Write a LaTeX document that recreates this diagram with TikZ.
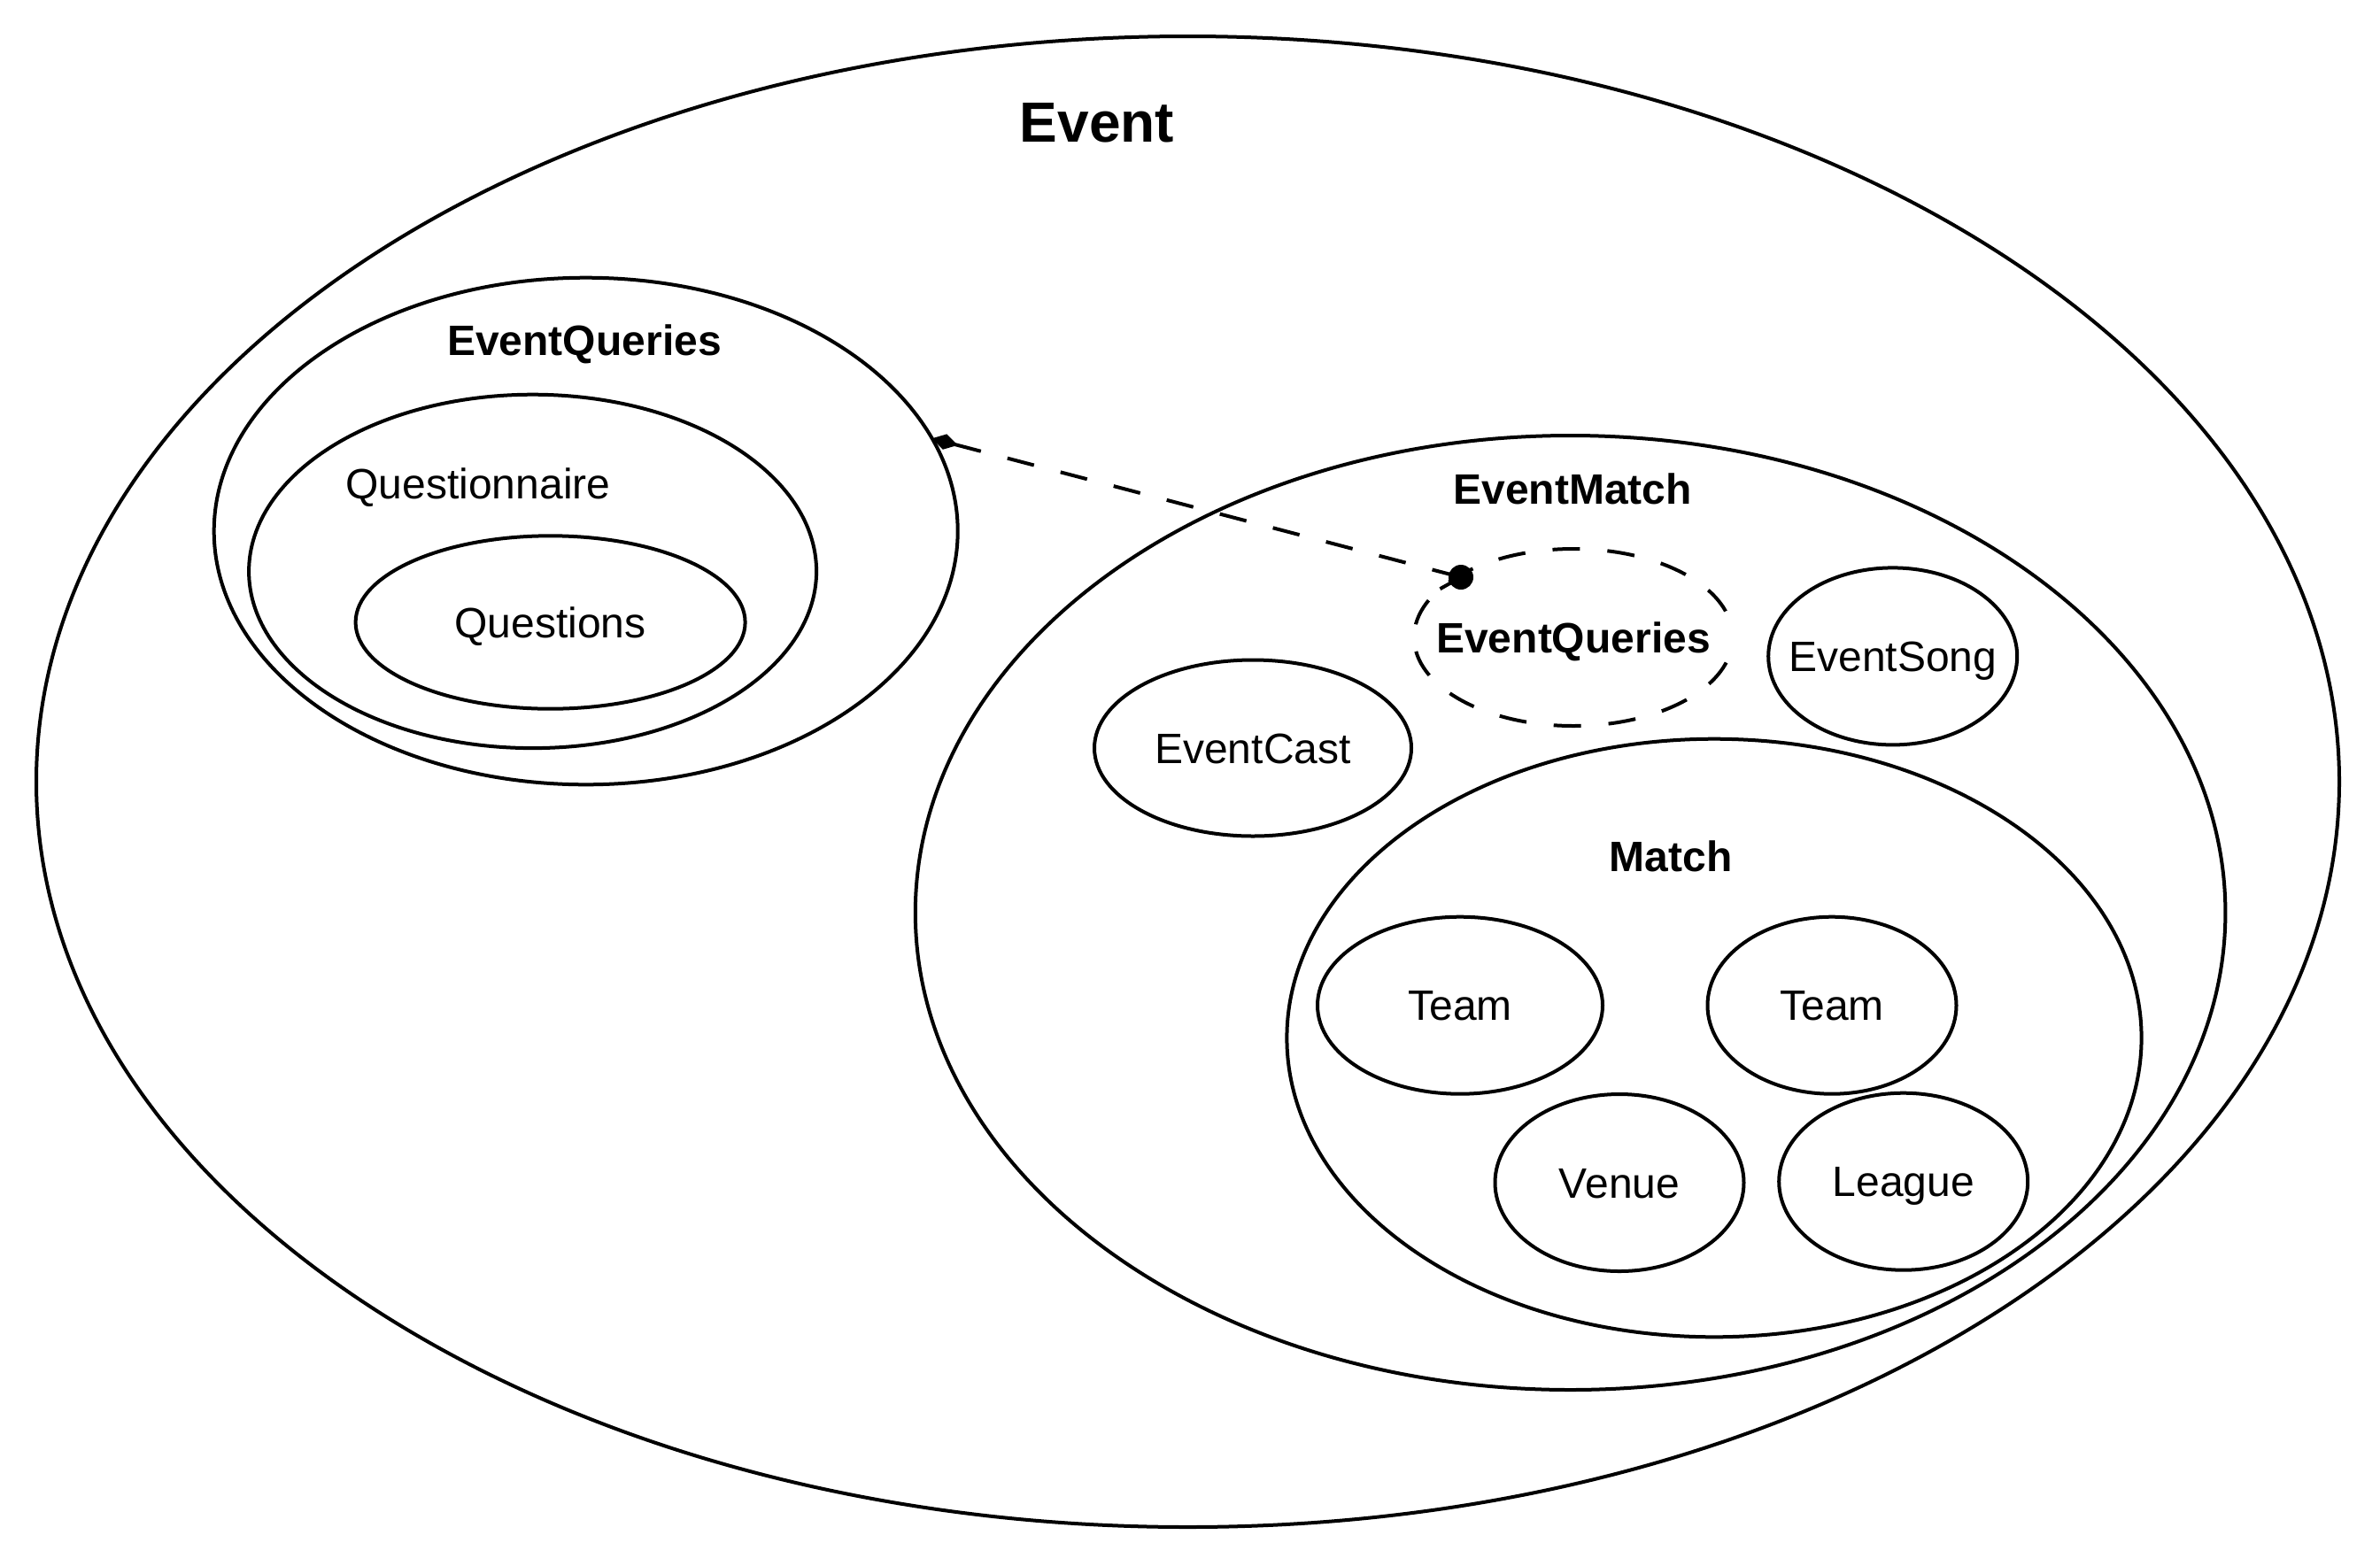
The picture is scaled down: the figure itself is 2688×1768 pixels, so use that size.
\documentclass[tikz,border=0pt]{standalone}
\usepackage{fontspec}
\setmainfont{Liberation Sans}
\usetikzlibrary{arrows.meta,shapes.geometric}
\begin{document}
\begin{tikzpicture}[x=0.25pt,y=-0.25pt,
  every node/.style={inner sep=0pt,outer sep=0pt},
  blob/.style={draw,ellipse,line width=1pt},
  txt/.style={font=\fontsize{12}{14}\selectfont,text height=8.6pt,text depth=0pt,anchor=center},
  btxt/.style={txt,font=\bfseries\fontsize{12}{14}\selectfont},
  ttl/.style={font=\bfseries\fontsize{12}{14}\selectfont,anchor=base},
  lbl/.style={font=\fontsize{12}{14}\selectfont,anchor=base},
  link/.style={line width=1pt,dash pattern=on 7.75pt off 7.75pt},
  ]
\useasboundingbox (0,0) rectangle (2688,1768);
% outer
\node[blob,minimum width=650.25pt,minimum height=421pt] (event) at (1341.5,883) {};
\node[font=\bfseries\fontsize{16}{19}\selectfont,anchor=base] (eventT) at (1239,160) {Event};
% left EventQueries
\node[blob,minimum width=210pt,minimum height=143.15pt] (eqo) at (661.7,600) {};
\node[ttl] (eqoT) at (660,401) {EventQueries};
\node[blob,minimum width=160.25pt,minimum height=99.85pt] (qnr) at (601.6,645.4) {};
\node[lbl] (qnrT) at (540,563) {Questionnaire};
\node[blob,minimum width=110pt,minimum height=48.85pt] (qs) at (621.6,703) {};
\node[txt] (qsT) at (qs.center) {Questions};
% EventMatch
\node[blob,minimum width=369.9pt,minimum height=269.5pt] (em) at (1773.6,1031) {};
\node[ttl] (emT) at (1776,569) {EventMatch};
\node[blob,dash pattern=on 7.75pt off 7.75pt,dash phase=7.75pt,minimum width=90pt,minimum height=50pt] (eqm) at (1777,720) {};
\node[btxt] (eqmT) at (eqm.center) {EventQueries};
\node[blob,minimum width=70.25pt,minimum height=50pt] (song) at (2137.7,741.4) {};
\node[txt] (songT) at (song.center) {EventSong};
\node[blob,minimum width=89.5pt,minimum height=49.75pt] (cast) at (1415,845) {};
\node[txt] (castT) at (cast.center) {EventCast};
% Match
\node[blob,minimum width=241.3pt,minimum height=168.9pt] (match) at (1936,1172.5) {};
\node[ttl] (matchT) at (1887,984) {Match};
\node[blob,minimum width=80.5pt,minimum height=50pt] (team1) at (1649,1135.7) {};
\node[txt] (team1T) at (team1.center) {Team};
\node[blob,minimum width=70.25pt,minimum height=50pt] (team2) at (2069,1135.7) {};
\node[txt] (team2T) at (team2.center) {Team};
\node[blob,minimum width=70.25pt,minimum height=50pt] (venue) at (1829,1336) {};
\node[txt] (venueT) at (venue.center) {Venue};
\node[blob,minimum width=70.25pt,minimum height=50pt] (league) at (2149.7,1334.7) {};
\node[txt] (leagueT) at (league.center) {League};
% connector
\node[circle,fill,minimum size=7pt] (dot) at (1650,652) {};
\draw[link,{Diamond[length=7.5pt,width=4.5pt]}-] (eqo.15.3) -- (dot.center);
\draw[line width=1pt] (dot.center) -- (eqm.160);
\end{tikzpicture}
\end{document}
